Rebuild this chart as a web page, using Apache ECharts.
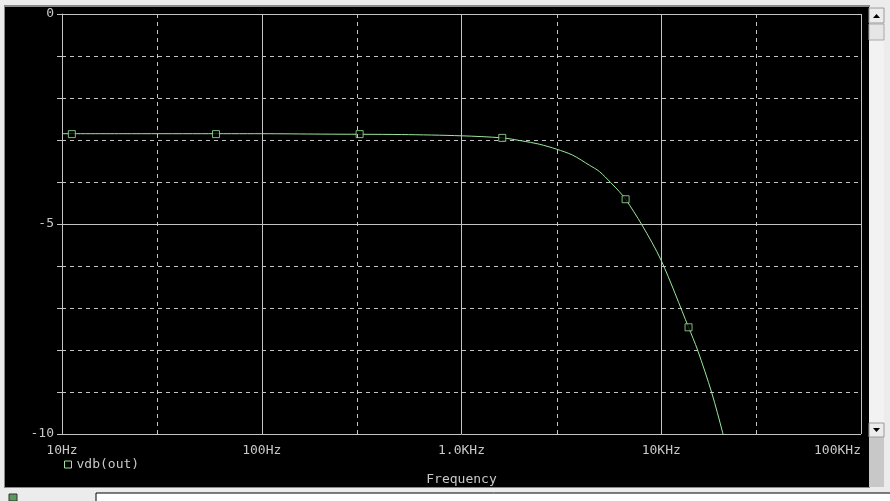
<!DOCTYPE html>
<html><head><meta charset="utf-8">
<script src="https://cdn.jsdelivr.net/npm/echarts@6/dist/echarts.min.js"></script>
<style>html,body{margin:0;padding:0;background:#ececec;overflow:hidden}#c{width:890px;height:501px}</style>
</head><body><div id="c"></div>
<script>
// Curve samples (frequency in Hz, magnitude in dB)
const freqHz = [10, 20, 50, 100, 200, 500, 1000, 1600, 2000, 2450, 3000, 3600, 4370, 4900, 5600, 6170, 6630, 8000, 10000, 13700, 15200, 17900, 20300, 21000];
const vdbOut = [-2.85, -2.85, -2.85, -2.85, -2.86, -2.87, -2.9, -2.95, -3.02, -3.10, -3.22, -3.36, -3.60, -3.75, -4.02, -4.23, -4.41, -5.02, -5.87, -7.46, -8.0, -9.02, -9.97, -10.3];
// Marker squares on the trace
const markerFreqHz = [11.2, 59, 309, 1600, 6630, 13700];
const markerVdb = [-2.86, -2.86, -2.86, -2.95, -4.41, -7.46];
// Axis ticks / labels
const xTickValues = [10, 100, 1000, 10000, 100000];
const xTickLabels = ['10Hz', '100Hz', '1.0KHz', '10KHz', '100KHz'];
const xMinorGrid = [30, 300, 3000, 30000];
const yLabelValues = [0, -5, -10];
const yLabelTexts = ['0', '-5', '-10'];
const traceName = 'vdb(out)';
const xAxisTitle = 'Frequency';

const GRID = '#c4c4c4';
const TXT = '#c8c8c8';
const TRACE = '#9be69b';
const FONT = 'DejaVu Sans Mono';

const chart = echarts.init(document.getElementById('c'));
const lineData = freqHz.map((f, i) => [f, vdbOut[i]]);
const markData = markerFreqHz.map((f, i) => [f, markerVdb[i]]);

chart.setOption({
  backgroundColor: '#ececec',
  animation: false,
  graphic: [
    { type: 'rect', z: -20, shape: { x: 4, y: 5, width: 866, height: 483 }, style: { fill: '#8a8a8a' } },
    { type: 'rect', z: -19, shape: { x: 5, y: 7, width: 864, height: 480 }, style: { fill: '#000' } },
    { type: 'rect', z: -19, shape: { x: 869, y: 7, width: 15, height: 480 }, style: { fill: '#f2f2f2' } },
    { type: 'rect', z: -18, shape: { x: 869, y: 437, width: 15, height: 50 }, style: { fill: '#c8c8c8' } },
    { type: 'rect', z: -18, shape: { x: 869, y: 8, width: 15, height: 15 }, style: { fill: '#ececec', stroke: '#9a9a9a', lineWidth: 1 } },
    { type: 'polygon', z: -17, shape: { points: [[873, 18], [880, 18], [876.5, 14]] }, style: { fill: '#000' } },
    { type: 'rect', z: -18, shape: { x: 869, y: 24, width: 15, height: 16 }, style: { fill: '#e6e6e6', stroke: '#a8a8a8', lineWidth: 1 } },
    { type: 'rect', z: -18, shape: { x: 869, y: 423, width: 15, height: 14 }, style: { fill: '#ececec', stroke: '#9a9a9a', lineWidth: 1 } },
    { type: 'polygon', z: -17, shape: { points: [[873, 428], [880, 428], [876.5, 432]] }, style: { fill: '#000' } },
    { type: 'rect', z: -18, shape: { x: 96, y: 493, width: 800, height: 10 }, style: { fill: '#fff', stroke: '#000', lineWidth: 1 } },
    { type: 'rect', z: -18, shape: { x: 9, y: 494, width: 8, height: 7 }, style: { fill: '#5a9a5a', stroke: '#333', lineWidth: 1 } }
  ],
  grid: { left: 62, top: 14, width: 799, height: 420, containLabel: false },
  legend: {
    left: 64, top: 458, padding: 0, icon: 'rect', itemWidth: 7, itemHeight: 7,
    textStyle: { color: TXT, fontFamily: FONT, fontSize: 13 },
    data: [{ name: traceName, icon: 'rect', itemStyle: { color: '#000', borderColor: TRACE, borderWidth: 1 } }]
  },
  xAxis: {
    type: 'log', logBase: 10, min: 10, max: 100000, interval: 1,
    name: xAxisTitle, nameLocation: 'middle', nameGap: 39,
    nameTextStyle: { color: TXT, fontFamily: FONT, fontSize: 13 },
    axisLine: { show: true, lineStyle: { color: GRID, width: 1 } },
    axisTick: { show: true, length: 4, lineStyle: { color: GRID } },
    splitLine: { show: true, lineStyle: { color: GRID, width: 1, type: 'solid' } },
    minorTick: { show: false }, minorSplitLine: { show: false },
    axisLabel: {
      color: TXT, fontFamily: FONT, fontSize: 13, margin: 10, alignMaxLabel: 'right',
      formatter: v => { const i = xTickValues.findIndex(t => Math.abs(Math.log10(t) - Math.log10(v)) < 1e-6); return i >= 0 ? xTickLabels[i] : ''; }
    }
  },
  yAxis: [
    {
      type: 'value', min: -10, max: 0, interval: 1, position: 'left',
      axisLine: { show: true, lineStyle: { color: GRID, width: 1 } },
      axisTick: { show: true, length: 5, lineStyle: { color: GRID } },
      splitLine: { show: true, lineStyle: { color: GRID, width: 1, type: [4, 4] } },
      axisLabel: { show: false }
    },
    {
      type: 'value', min: -10, max: 0, interval: 5, position: 'left', offset: 0,
      axisLine: { show: false },
      axisTick: { show: true, length: 5, lineStyle: { color: GRID } },
      splitLine: { show: true, lineStyle: { color: GRID, width: 1, type: 'solid' } },
      axisLabel: {
        color: TXT, fontFamily: FONT, fontSize: 13, margin: 8,
        formatter: v => { const i = yLabelValues.indexOf(Math.round(v)); return i >= 0 ? yLabelTexts[i] : ''; }
      }
    }
  ],
  series: [
    {
      name: traceName, type: 'line', data: lineData, smooth: 0.3, showSymbol: false, clip: true,
      lineStyle: { color: TRACE, width: 1 }, itemStyle: { color: TRACE },
      markLine: {
        silent: true, symbol: 'none', label: { show: false },
        lineStyle: { color: GRID, width: 1, type: [4, 4] },
        data: xMinorGrid.map(f => ({ xAxis: f }))
      },
      z: 3
    },
    {
      name: traceName, type: 'scatter', data: markData, symbol: 'rect', symbolSize: 7,
      itemStyle: { color: '#000', borderColor: TRACE, borderWidth: 1 }, z: 4
    }
  ]
});
</script>
</body></html>
